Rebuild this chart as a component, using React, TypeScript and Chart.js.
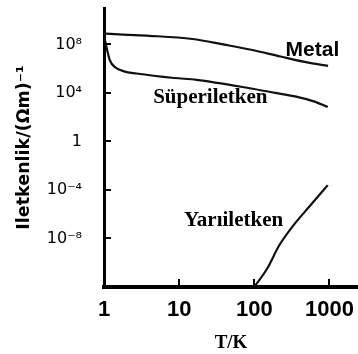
import React, { useEffect, useRef } from "react";
import { Chart, registerables } from "chart.js";

Chart.register(...registerables);

// Axis ticks
const xTickValues = [1, 10, 100, 1000];
const xTickLabels = ["1", "10", "100", "1000"];
const yTickValues = [1e8, 1e4, 1, 1e-4, 1e-8];
const yTickLabels = ["10⁸", "10⁴", "1", "10⁻⁴", "10⁻⁸"];
const xTitle = "T/K";
const yTitle = "Iletkenlik/(Ωm)⁻¹";

// Metal
const metalT = [1, 1.8, 4, 15, 40, 91, 224, 525, 960];
const metalSigma = [7.8e8, 6.3e8, 5.1e8, 2.8e8, 9.5e7, 3.6e7, 1e7, 3.1e6, 1.7e6];

// Süperiletken
const superT = [1.0, 1.1, 1.2, 1.4, 1.85, 2.7, 8.6, 17, 91, 190, 360, 620, 950];
const superSigma = [5.1e8, 3.6e7, 4.7e6, 1.35e6, 6e5, 4e5, 1.7e5, 1.2e5, 2.3e4, 1e4, 4.9e3, 2e3, 7e2];

// Yarıiletken
const semiT = [100, 150, 213, 320, 552, 950];
const semiSigma = [1e-12, 3.7e-11, 2.5e-9, 9.1e-8, 5e-6, 2.5e-4];

// Curve labels (placed in data coordinates)
const labelTexts = ["Metal", "Süperiletken", "Yarıiletken"];
const labelT = [593, 26, 53];
const labelSigma = [3.5e7, 4.0e3, 2.8e-7];
const labelFonts = [
  'bold 21px "Liberation Sans", Arial, sans-serif',
  'bold 21px "Liberation Serif", "Times New Roman", serif',
  'bold 21px "Liberation Serif", "Times New Roman", serif',
];

const toPoints = (xs: number[], ys: number[]) => xs.map((x, i) => ({ x, y: ys[i] }));

const inwardTicks = {
  id: "inwardTicks",
  afterDraw(chart: any) {
    const { ctx, chartArea, scales } = chart;
    ctx.save();
    ctx.strokeStyle = "#000";
    ctx.lineWidth = 2;
    ctx.beginPath();
    for (const v of yTickValues) {
      const y = Math.round(scales.y.getPixelForValue(v));
      ctx.moveTo(chartArea.left, y);
      ctx.lineTo(chartArea.left + 7, y);
    }
    for (const v of xTickValues) {
      const x = Math.round(scales.x.getPixelForValue(v));
      ctx.moveTo(x, chartArea.bottom);
      ctx.lineTo(x, chartArea.bottom - 8);
    }
    ctx.stroke();
    ctx.restore();
  },
};

const curveLabels = {
  id: "curveLabels",
  afterDatasetsDraw(chart: any) {
    const { ctx, scales } = chart;
    ctx.save();
    ctx.fillStyle = "#000";
    ctx.textAlign = "center";
    ctx.textBaseline = "middle";
    labelTexts.forEach((t, i) => {
      ctx.font = labelFonts[i];
      ctx.fillText(t, scales.x.getPixelForValue(labelT[i]), scales.y.getPixelForValue(labelSigma[i]));
    });
    ctx.restore();
  },
};

export default function App() {
  const ref = useRef<HTMLCanvasElement | null>(null);
  useEffect(() => {
    document.body.style.margin = "0";
    const canvas = ref.current;
    if (!canvas) return;
    const lineDs = (label: string, xs: number[], ys: number[]) => ({
      label,
      data: toPoints(xs, ys),
      borderColor: "#111",
      borderWidth: 2.2,
      pointRadius: 0,
      fill: false,
      cubicInterpolationMode: "monotone" as const,
    });
    const chart = new Chart(canvas, {
      type: "line",
      data: {
        datasets: [
          lineDs(labelTexts[0], metalT, metalSigma),
          lineDs(labelTexts[1], superT, superSigma),
          lineDs(labelTexts[2], semiT, semiSigma),
        ],
      },
      options: {
        animation: false,
        responsive: false,
        devicePixelRatio: 1,
        layout: { padding: { top: 8, left: 0, right: 0, bottom: 0 } },
        plugins: { legend: { display: false }, tooltip: { enabled: false } },
        scales: {
          x: {
            type: "logarithmic",
            min: 1,
            max: 2400,
            afterBuildTicks: (s: any) => {
              s.ticks = xTickValues.map((v) => ({ value: v }));
            },
            afterFit: (s: any) => {
              s.height = 67;
              s.paddingLeft = 0;
              s.paddingRight = 0;
            },
            grid: { display: false, drawTicks: false },
            border: { display: true, color: "#000", width: 4 },
            ticks: {
              color: "#000",
              padding: 10,
              autoSkip: false,
              maxRotation: 0,
              font: { family: '"Liberation Sans", Arial, sans-serif', weight: "bold", size: 22 },
              callback: (_v: any, i: number) => xTickLabels[i],
            },
            title: {
              display: true,
              text: xTitle,
              color: "#000",
              padding: { top: 0, bottom: 0 },
              font: { family: '"Liberation Serif", "Times New Roman", serif', weight: "bold", size: 19 },
            },
          },
          y: {
            type: "logarithmic",
            min: 1e-12,
            max: 1e11,
            afterBuildTicks: (s: any) => {
              s.ticks = yTickValues.map((v) => ({ value: v }));
            },
            afterFit: (s: any) => {
              s.width = 104;
              s.paddingTop = 0;
              s.paddingBottom = 0;
            },
            grid: { display: false, drawTicks: false },
            border: { display: true, color: "#000", width: 3 },
            ticks: {
              color: "#000",
              padding: 22,
              autoSkip: false,
              font: { family: '"DejaVu Sans", sans-serif', size: 16 },
              callback: (_v: any, i: number) => yTickLabels[i],
            },
            title: {
              display: true,
              text: yTitle,
              color: "#000",
              padding: { top: 14, bottom: 0 },
              font: { family: '"DejaVu Sans", sans-serif', weight: "bold", size: 17.5 },
            },
          },
        },
      },
      plugins: [inwardTicks, curveLabels],
    });
    return () => chart.destroy();
  }, []);
  return <canvas ref={ref} width={358} height={354} style={{ display: "block" }} />;
}
